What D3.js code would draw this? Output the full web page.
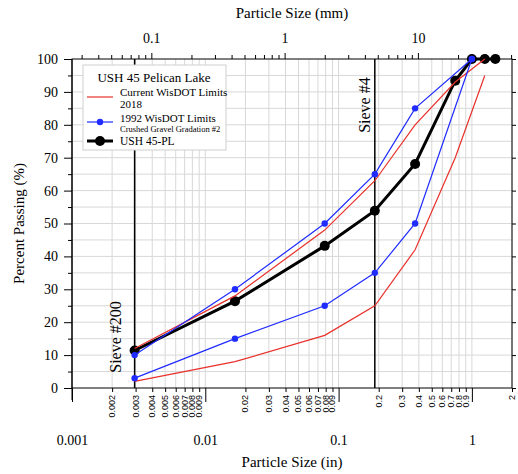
<!DOCTYPE html>
<html><head><meta charset="utf-8">
<script src="https://cdn.jsdelivr.net/npm/d3@7"></script>
<style>
body{margin:0;background:#fff}
text{font-family:"Liberation Serif","Times New Roman",serif;fill:#000}
</style>
</head><body><script>
// sieve sizes in inches (#200, #40, #10, #4, 3/8", 3/4", 1", 1 1/4", 1 1/2")
var pl_sizes = [0.00295, 0.0167, 0.0787, 0.187, 0.375, 0.75, 1.0, 1.25, 1.5];
var pl_pass = [11.4, 26.4, 43.2, 53.9, 68.1, 93.4, 100, 100, 100];
var old_sizes = [0.00295, 0.0167, 0.0787, 0.187, 0.375, 1.0];
var old_upper = [10, 30, 50, 65, 85, 100];
var old_lower = [3, 15, 25, 35, 50, 100];
var cur_sizes = [0.00295, 0.0167, 0.0787, 0.187, 0.375, 0.75, 1.25];
var cur_upper = [12, 28, 48, 63, 80, 93, 100];
var cur_lower = [2, 8, 16, 25, 42, 70, 95];
var sieves = [0.00295, 0.187];
var sieveNames = ["Sieve #200", "Sieve #4"];
var inMajor = [0.001, 0.01, 0.1, 1];
var inMinor = [0.002, 0.003, 0.004, 0.005, 0.006, 0.007, 0.008, 0.009,
  0.02, 0.03, 0.04, 0.05, 0.06, 0.07, 0.08, 0.09,
  0.2, 0.3, 0.4, 0.5, 0.6, 0.7, 0.8, 0.9, 2];
var mmMajor = [0.1, 1, 10];
var mmMinor = [0.03, 0.04, 0.05, 0.06, 0.07, 0.08, 0.09,
  0.2, 0.3, 0.4, 0.5, 0.6, 0.7, 0.8, 0.9,
  2, 3, 4, 5, 6, 7, 8, 9, 20, 30, 40, 50];
var yMajor = d3.range(0, 101, 10);
var yMinor = d3.range(5, 100, 10);

var W = 518, H = 474;
var svg = d3.select('body').append('svg').attr('width', W).attr('height', H);

var x = d3.scaleLog().domain([0.001, 2]).range([72, 512]);
var xmm = d3.scaleLog().domain([0.0254, 50.8]).range([72, 512]);
var y = d3.scaleLinear().domain([0, 100]).range([388, 59]);

// grid
svg.append('g').selectAll('line').data(inMinor.concat(inMajor)).join('line')
  .attr('x1', d => x(d)).attr('x2', d => x(d)).attr('y1', y(0)).attr('y2', y(100))
  .attr('stroke', '#d8d8d8').attr('stroke-width', 1);
svg.append('g').selectAll('line').data(d3.range(5, 100, 5)).join('line')
  .attr('x1', x.range()[0]).attr('x2', x.range()[1]).attr('y1', d => y(d)).attr('y2', d => y(d))
  .attr('stroke', '#d8d8d8').attr('stroke-width', 1);

// frame
svg.append('rect').attr('x', 72).attr('y', y(100)).attr('width', 440).attr('height', y(0) - y(100))
  .attr('fill', 'none').attr('stroke', '#000').attr('stroke-width', 1);

function styleAxis(g) {
  g.select('.domain').remove();
  g.selectAll('line').attr('stroke', '#000');
  g.selectAll('text').style('font-family', '"Liberation Serif",serif').style('font-size', '14px');
}

// bottom axis (inches)
svg.append('g').attr('transform', 'translate(0,' + y(0) + ')')
  .call(d3.axisBottom(x).tickValues(inMinor).tickSize(4).tickFormat(''))
  .call(styleAxis);
svg.append('g').attr('transform', 'translate(0,' + y(0) + ')')
  .call(d3.axisBottom(x).tickValues(inMajor).tickSize(14).tickPadding(33).tickFormat(d => String(d)))
  .call(styleAxis);
svg.append('g').selectAll('text').data(inMinor).join('text')
  .attr('transform', d => 'translate(' + (x(d) + 3) + ',' + (y(0) + 7) + ')rotate(-90)')
  .attr('text-anchor', 'end')
  .style('font-family', '"Liberation Sans",Arial,sans-serif').style('font-size', '9px')
  .text(d => String(d));

// top axis (mm)
svg.append('g').attr('transform', 'translate(0,' + y(100) + ')')
  .call(d3.axisTop(xmm).tickValues(mmMinor).tickSize(4).tickFormat(''))
  .call(styleAxis);
svg.append('g').attr('transform', 'translate(0,' + y(100) + ')')
  .call(d3.axisTop(xmm).tickValues(mmMajor).tickSize(6).tickPadding(10).tickFormat(d => String(d)))
  .call(styleAxis);

// left axis
svg.append('g').attr('transform', 'translate(72,0)')
  .call(d3.axisLeft(y).tickValues(yMajor).tickSize(8).tickPadding(6))
  .call(styleAxis);
svg.append('g').attr('transform', 'translate(72,0)')
  .call(d3.axisLeft(y).tickValues(yMinor).tickSize(4).tickFormat(''))
  .call(styleAxis);
svg.append('line').attr('x1', 72).attr('x2', 72).attr('y1', y(100)).attr('y2', y(0) + 12).attr('stroke', '#000');
// right axis
svg.append('g').attr('transform', 'translate(512,0)')
  .call(d3.axisRight(y).tickValues(yMajor).tickSize(4).tickFormat(''))
  .call(styleAxis);

// titles
svg.append('text').attr('x', 292).attr('y', 18).attr('text-anchor', 'middle').style('font-size', '15px').text('Particle Size (mm)');
svg.append('text').attr('x', 292).attr('y', 467).attr('text-anchor', 'middle').style('font-size', '15px').text('Particle Size (in)');
svg.append('text').attr('transform', 'translate(24,' + y(50) + ')rotate(-90)').attr('text-anchor', 'middle')
  .style('font-size', '15px').text('Percent Passing (%)');

// sieve lines
svg.append('g').selectAll('line').data(sieves).join('line')
  .attr('x1', d => x(d)).attr('x2', d => x(d)).attr('y1', y(100)).attr('y2', y(0))
  .attr('stroke', '#000').attr('stroke-width', 1.5);
svg.append('text').attr('transform', 'translate(' + (x(sieves[0]) - 14) + ',' + y(15.5) + ')rotate(-90)')
  .attr('text-anchor', 'middle').style('font-size', '16px').text(sieveNames[0]);
svg.append('text').attr('transform', 'translate(' + (x(sieves[1]) - 5) + ',' + y(86) + ')rotate(-90)')
  .attr('text-anchor', 'middle').style('font-size', '16px').text(sieveNames[1]);

var line = d3.line().x(d => x(d[0])).y(d => y(d[1]));
function pairs(xs, ys) { return xs.map((v, i) => [v, ys[i]]); }

// USH 45-PL
svg.append('path').attr('d', line(pairs(pl_sizes, pl_pass)))
  .attr('fill', 'none').attr('stroke', '#000').attr('stroke-width', 3);
svg.append('g').selectAll('circle').data(pairs(pl_sizes, pl_pass)).join('circle')
  .attr('cx', d => x(d[0])).attr('cy', d => y(d[1])).attr('r', 5).attr('fill', '#000');

// current limits
[cur_upper, cur_lower].forEach(function (s) {
  svg.append('path').attr('d', line(pairs(cur_sizes, s)))
    .attr('fill', 'none').attr('stroke', '#e8302a').attr('stroke-width', 1.2);
});
// 1992 limits
[old_upper, old_lower].forEach(function (s) {
  svg.append('path').attr('d', line(pairs(old_sizes, s)))
    .attr('fill', 'none').attr('stroke', '#1f2bff').attr('stroke-width', 1.2);
  svg.append('g').selectAll('circle').data(pairs(old_sizes, s)).join('circle')
    .attr('cx', d => x(d[0])).attr('cy', d => y(d[1])).attr('r', 3.2).attr('fill', '#1f2bff');
});

// legend
var lg = svg.append('g');
lg.append('rect').attr('x', 83).attr('y', 65).attr('width', 143).attr('height', 85)
  .attr('fill', '#fff').attr('stroke', '#cfcfcf');
lg.append('text').attr('x', 154).attr('y', 82).attr('text-anchor', 'middle').style('font-size', '13px').text('USH 45 Pelican Lake');
lg.append('line').attr('x1', 87).attr('x2', 113).attr('y1', 97).attr('y2', 97).attr('stroke', '#e8302a').attr('stroke-width', 1.2);
lg.append('text').attr('x', 120).attr('y', 96).style('font-size', '11px').text('Current WisDOT Limits');
lg.append('text').attr('x', 120).attr('y', 108).style('font-size', '11px').text('2018');
lg.append('line').attr('x1', 87).attr('x2', 113).attr('y1', 122).attr('y2', 122).attr('stroke', '#1f2bff').attr('stroke-width', 1.2);
lg.append('circle').attr('cx', 100).attr('cy', 122).attr('r', 3.2).attr('fill', '#1f2bff');
lg.append('text').attr('x', 120).attr('y', 122).style('font-size', '11px').text('1992 WisDOT Limits');
lg.append('text').attr('x', 120).attr('y', 132).style('font-size', '8.5px').text('Crushed Gravel Gradation #2');
lg.append('line').attr('x1', 87).attr('x2', 113).attr('y1', 141).attr('y2', 141).attr('stroke', '#000').attr('stroke-width', 3);
lg.append('circle').attr('cx', 100).attr('cy', 141).attr('r', 5).attr('fill', '#000');
lg.append('text').attr('x', 120).attr('y', 145).style('font-size', '11.5px').text('USH 45-PL');
</script></body></html>
